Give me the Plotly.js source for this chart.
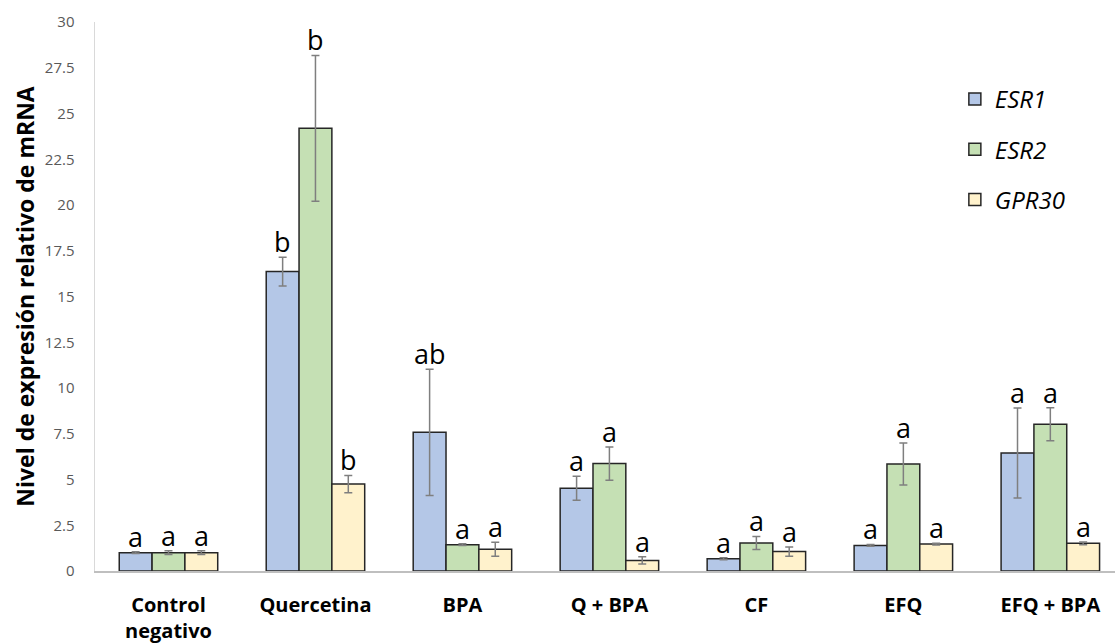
<!DOCTYPE html>
<html>
<head>
<meta charset="utf-8">
<script src="https://cdn.plot.ly/plotly-3.0.1.min.js"></script>
<style>html,body{margin:0;padding:0;background:#fff;}#chart{width:1115px;height:643px;}</style>
</head>
<body>
<div id="chart"></div>
<script>
var categories = ["Control<br>negativo", "Quercetina", "BPA", "Q + BPA", "CF", "EFQ", "EFQ + BPA"];
var seriesNames = ["ESR1", "ESR2", "GPR30"];

var esr1 = [1.0, 16.36, 7.58, 4.52, 0.67, 1.40, 6.45];
var esr2 = [1.0, 24.19, 1.44, 5.87, 1.53, 5.85, 8.02];
var gpr30 = [1.0, 4.75, 1.19, 0.58, 1.06, 1.47, 1.51];

var esr1Err = [0.05, 0.78, 3.45, 0.66, 0.05, 0.05, 2.46];
var esr2Err = [0.1, 3.98, 0.05, 0.91, 0.36, 1.15, 0.90];
var gpr30Err = [0.1, 0.47, 0.38, 0.20, 0.25, 0.05, 0.08];

var esr1Letters = ["a", "b", "ab", "a", "a", "a", "a"];
var esr2Letters = ["a", "b", "a", "a", "a", "a", "a"];
var gpr30Letters = ["a", "b", "a", "a", "a", "a", "a"];

var yTickVals = [0, 2.5, 5, 7.5, 10, 12.5, 15, 17.5, 20, 22.5, 25, 27.5, 30];
var yTickText = ["0", "2.5", "5", "7.5", "10", "12.5", "15", "17.5", "20", "22.5", "25", "27.5", "30"];

var colors = ["#b4c7e7", "#c5e0b4", "#fff2cc"];
var values = [esr1, esr2, gpr30];
var errs = [esr1Err, esr2Err, gpr30Err];
var letters = [esr1Letters, esr2Letters, gpr30Letters];

var bargap = 0.33;
var nSeries = 3;
var barW = (1 - bargap) / nSeries;

var traces = [];
for (var s = 0; s < nSeries; s++) {
  traces.push({
    type: "bar",
    name: seriesNames[s],
    x: categories,
    y: values[s],
    legendgroup: seriesNames[s],
    marker: {color: colors[s], line: {color: "#262626", width: 1.5}},
    error_y: {type: "data", array: errs[s], visible: true, color: "#7f7f7f", thickness: 1.5, width: 4}
  });
}

var annotations = [];
for (var s2 = 0; s2 < nSeries; s2++) {
  for (var i = 0; i < categories.length; i++) {
    annotations.push({
      x: i + (s2 - 1) * barW,
      y: values[s2][i] + errs[s2][i],
      xref: "x", yref: "y",
      text: letters[s2][i],
      showarrow: false,
      yanchor: "bottom",
      xanchor: "center",
      yshift: -5,
      font: {family: "Open Sans, sans-serif", size: 27, color: "#000"}
    });
  }
}

var layout = {
  width: 1115, height: 643,
  margin: {l: 95, r: 0, t: 22, b: 72},
  paper_bgcolor: "#fff", plot_bgcolor: "#fff",
  barmode: "group",
  bargap: bargap,
  bargroupgap: 0,
  showlegend: true,
  legend: {
    x: 0.843, y: 0.90, xanchor: "left", yanchor: "top",
    font: {family: "Open Sans, sans-serif", size: 24, color: "#000", style: "italic"},
    traceorder: "grouped",
    tracegroupgap: 16,
    itemwidth: 30,
    bgcolor: "rgba(0,0,0,0)"
  },
  xaxis: {
    type: "category",
    range: [-0.5, 6.44],
    showgrid: false,
    showline: true, linecolor: "#bfbfbf", linewidth: 2,
    ticks: "",
    tickfont: {family: "Open Sans, sans-serif", size: 20, color: "#000", weight: "bold"},
    ticklabelstandoff: 15,
    fixedrange: true
  },
  yaxis: {
    range: [0, 30],
    tickvals: yTickVals,
    ticktext: yTickText,
    showgrid: false,
    zeroline: false,
    showline: true, linecolor: "#d9d9d9", linewidth: 1.5,
    ticks: "",
    tickfont: {family: "Open Sans, sans-serif", size: 15, color: "#595959"},
    ticklabelstandoff: 16,
    title: {text: "Nivel de expresión relativo de mRNA", font: {family: "Open Sans, sans-serif", size: 23, color: "#000", weight: "bold"}, standoff: 4},
    fixedrange: true
  },
  annotations: annotations
};

Plotly.newPlot("chart", traces, layout, {displayModeBar: false, staticPlot: true});
</script>
</body>
</html>
